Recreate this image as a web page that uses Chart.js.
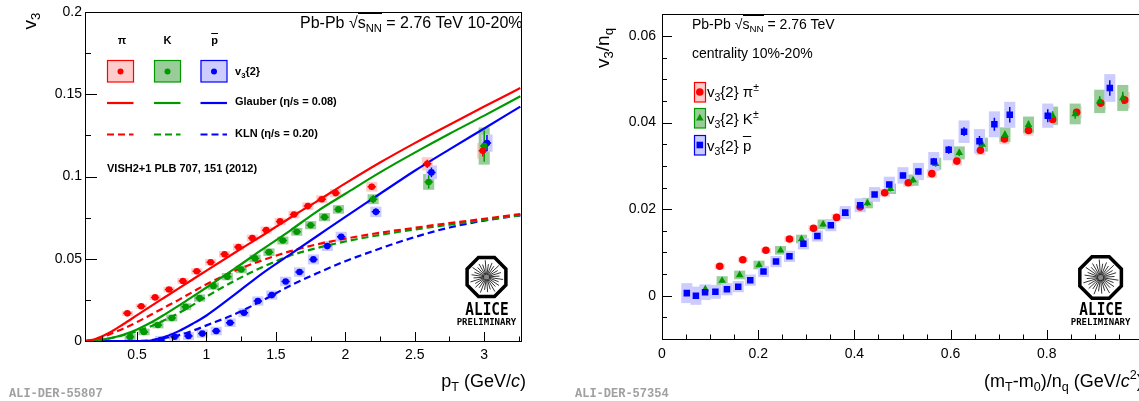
<!DOCTYPE html>
<html>
<head>
<meta charset="utf-8">
<script src="https://cdn.jsdelivr.net/npm/chart.js@4.4.1/dist/chart.umd.min.js"></script>
<style>
  html, body { margin: 0; padding: 0; background: #fff; }
  body { position: relative; width: 1139px; height: 401px; overflow: hidden; font-family: 'Liberation Sans', Arial, sans-serif; }
  canvas { position: absolute; top: 0; }
  .t { position: absolute; white-space: nowrap; line-height: 1; color: #000; }
  .b { font-weight: bold; }
  .c { text-align: center; }
  sub, sup { font-size: 70%; line-height: 0; }
  sub { vertical-align: -0.35em; }
  sup { vertical-align: 0.6em; }
  .ov { text-decoration: overline; }
  .rt { border-top: 1px solid #000; }
  .ali { font-family: 'Liberation Mono', monospace; font-weight: bold; font-size: 12px; color: #a0a0a0; }
  .logo { font-family: 'DejaVu Sans Mono', monospace; font-weight: bold; text-align: center; width: 100px; }
</style>
</head>
<body>
<canvas id="left" width="560" height="401" style="left:0"></canvas>
<canvas id="right" width="620" height="401" style="left:570px"></canvas>

<!-- left panel texts -->
<div class="t" style="left:29px;top:21px;font-size:19px;transform:translate(-50%,-50%) rotate(-90deg)">v<sub>3</sub></div>
<div class="t" style="left:300px;top:15px;width:222px;text-align:right;font-size:16px">Pb-Pb <span>&#8730;</span><span class="rt">s<sub>NN</sub></span> = 2.76 TeV 10-20%</div>
<div class="t b c" style="left:102px;top:35px;width:40px;font-size:11px">&pi;</div>
<div class="t b c" style="left:147.6px;top:35px;width:40px;font-size:11px">K</div>
<div class="t b c" style="left:194.6px;top:35px;width:40px;font-size:11px"><span class="ov">p</span></div>
<div class="t b" style="left:235px;top:66px;font-size:11px">v<sub>3</sub>{2}</div>
<div class="t b" style="left:235px;top:96px;font-size:11px">Glauber (&eta;/s = 0.08)</div>
<div class="t b" style="left:235px;top:127.5px;font-size:11px">KLN (&eta;/s = 0.20)</div>
<div class="t b" style="left:107px;top:162.5px;font-size:11px">VISH2+1 PLB 707, 151 (2012)</div>
<div class="t" style="left:380px;top:372px;width:146px;text-align:right;font-size:18px">p<sub>T</sub> (GeV/<i>c</i>)</div>
<div class="t ali" style="left:9px;top:388px">ALI-DER-55807</div>
<div class="t logo" style="left:436.5px;top:300px;font-size:18px;transform:scaleX(0.8)">ALICE</div>
<div class="t logo" style="left:436.5px;top:318px;font-size:9px">PRELIMINARY</div>

<!-- right panel texts -->
<div class="t" style="left:602px;top:48px;font-size:19px;transform:translate(-50%,-50%) rotate(-90deg)">v<sub>3</sub>/n<sub>q</sub></div>
<div class="t" style="left:692px;top:17px;font-size:14px">Pb-Pb <span>&#8730;</span><span class="rt">s<sub>NN</sub></span> = 2.76 TeV</div>
<div class="t" style="left:692px;top:46px;font-size:14px">centrality 10%-20%</div>
<div class="t" style="left:707px;top:84px;font-size:15px">v<sub>3</sub>{2} &pi;<sup>&plusmn;</sup></div>
<div class="t" style="left:707px;top:111px;font-size:15px">v<sub>3</sub>{2} K<sup>&plusmn;</sup></div>
<div class="t" style="left:707px;top:138px;font-size:15px">v<sub>3</sub>{2} <span class="ov">p</span></div>
<div class="t" style="left:984px;top:372px;font-size:18px">(m<sub>T</sub>-m<sub>0</sub>)/n<sub>q</sub> (GeV/<i>c</i><sup>2</sup>)</div>
<div class="t ali" style="left:575px;top:388px">ALI-DER-57354</div>
<div class="t logo" style="left:1050.6px;top:300px;font-size:18px;transform:scaleX(0.8)">ALICE</div>
<div class="t logo" style="left:1050.6px;top:318px;font-size:9px">PRELIMINARY</div>

<script>
// ---- left panel: v3 vs pT ----
const ptPi = [0.43, 0.53, 0.63, 0.73, 0.83, 0.93, 1.03, 1.13, 1.23, 1.33, 1.43, 1.53, 1.63, 1.73, 1.83, 1.93, 2.19, 2.59, 2.99];
const v3Pi = [0.0168, 0.0211, 0.0265, 0.0313, 0.0365, 0.0424, 0.0479, 0.0527, 0.0571, 0.0626, 0.0674, 0.0727, 0.0769, 0.0820, 0.0862, 0.0899, 0.0938, 0.1077, 0.1156];
const statPi = [0.0008, 0.0008, 0.0008, 0.0008, 0.0008, 0.0009, 0.0009, 0.0009, 0.001, 0.001, 0.001, 0.0011, 0.0011, 0.0012, 0.0013, 0.0014, 0.0018, 0.0025, 0.0035];
const sysPi = [0.0015, 0.0015, 0.0016, 0.0017, 0.0018, 0.0019, 0.002, 0.002, 0.0021, 0.0021, 0.0022, 0.0022, 0.0023, 0.0023, 0.0024, 0.0025, 0.003, 0.004, 0.0048];

const ptK = [0.45, 0.55, 0.65, 0.75, 0.85, 0.95, 1.05, 1.15, 1.25, 1.35, 1.45, 1.55, 1.65, 1.75, 1.85, 1.95, 2.2, 2.6, 3.0];
const v3K = [0.0025, 0.0055, 0.0097, 0.0140, 0.0208, 0.0261, 0.0334, 0.0391, 0.0435, 0.0502, 0.0540, 0.0611, 0.0664, 0.0704, 0.0753, 0.0800, 0.0862, 0.0967, 0.1185];
const statK = [0.001, 0.001, 0.001, 0.001, 0.001, 0.001, 0.001, 0.001, 0.0011, 0.0011, 0.0012, 0.0012, 0.0013, 0.0013, 0.0014, 0.0015, 0.0025, 0.004, 0.0095];
const sysK = [0.002, 0.002, 0.002, 0.0021, 0.0021, 0.0022, 0.0022, 0.0022, 0.0023, 0.0023, 0.0023, 0.0024, 0.0024, 0.0025, 0.0025, 0.0026, 0.003, 0.0048, 0.0113];

const ptP = [0.67, 0.77, 0.87, 0.97, 1.07, 1.17, 1.27, 1.37, 1.47, 1.57, 1.67, 1.77, 1.87, 1.97, 2.22, 2.62, 3.02];
const v3P = [0.0006, 0.0026, 0.0030, 0.0045, 0.0061, 0.0111, 0.0172, 0.0243, 0.0279, 0.0362, 0.0419, 0.0496, 0.0577, 0.0634, 0.0785, 0.1025, 0.1203];
const statP = [0.0008, 0.0008, 0.0008, 0.0008, 0.0009, 0.0009, 0.0009, 0.001, 0.001, 0.0011, 0.0011, 0.0012, 0.0013, 0.0015, 0.002, 0.003, 0.005];
const sysP = [0.0025, 0.0025, 0.0025, 0.0025, 0.0026, 0.0026, 0.0027, 0.0028, 0.0028, 0.0029, 0.0029, 0.003, 0.003, 0.003, 0.0032, 0.0042, 0.0053];

// VISH2+1 curves
const curvePt = [0.13, 0.2, 0.3, 0.4, 0.5, 0.6, 0.7, 0.8, 0.9, 1.0, 1.2, 1.4, 1.6, 1.8, 2.0, 2.25, 2.5, 2.75, 3.0, 3.26];
const glauberPi = [0, 0.0012, 0.005, 0.0102, 0.0157, 0.0212, 0.0266, 0.032, 0.0374, 0.0428, 0.0535, 0.064, 0.0748, 0.0852, 0.0958, 0.1085, 0.1203, 0.1315, 0.1425, 0.1538];
const glauberK = [0, 0.0003, 0.0016, 0.0038, 0.007, 0.0112, 0.0162, 0.0215, 0.027, 0.0325, 0.0438, 0.0555, 0.067, 0.079, 0.0895, 0.1025, 0.1145, 0.126, 0.137, 0.1488];
const glauberP = [0, 0, 0, 0, 0, 0.0003, 0.0025, 0.006, 0.0105, 0.0155, 0.028, 0.041, 0.0525, 0.064, 0.0755, 0.0895, 0.1035, 0.1165, 0.1292, 0.1425];
const klnPi = [0, 0.0008, 0.004, 0.0075, 0.0115, 0.016, 0.0205, 0.025, 0.0298, 0.0345, 0.0425, 0.049, 0.0545, 0.0588, 0.0622, 0.0658, 0.0688, 0.0717, 0.0743, 0.0772];
const klnK = [0, 0.0003, 0.0015, 0.0035, 0.006, 0.009, 0.0128, 0.017, 0.0218, 0.027, 0.0365, 0.0448, 0.0518, 0.0566, 0.0605, 0.0645, 0.0678, 0.0707, 0.0735, 0.0765];
const klnP = [0, 0, 0, 0, 0, 0.0005, 0.0018, 0.0035, 0.0062, 0.0095, 0.0162, 0.0245, 0.0335, 0.0413, 0.0485, 0.0562, 0.0632, 0.069, 0.0732, 0.0764];

const xTicksLeft = [0.5, 1, 1.5, 2, 2.5, 3];
const xLabelsLeft = ['0.5', '1', '1.5', '2', '2.5', '3'];
const yTicksLeft = [0, 0.05, 0.1, 0.15, 0.2];
const yLabelsLeft = ['0', '0.05', '0.1', '0.15', '0.2'];

// ---- right panel: v3/nq vs (mT-m0)/nq ----
const kePi = [0.12, 0.168, 0.216, 0.265, 0.315, 0.363, 0.412, 0.463, 0.512, 0.561, 0.613, 0.662, 0.712, 0.762, 0.812, 0.862, 0.912, 0.962];
const nqPi = [0.0068, 0.0083, 0.0105, 0.0131, 0.0156, 0.0181, 0.0205, 0.0238, 0.0261, 0.0282, 0.0311, 0.0336, 0.0362, 0.0382, 0.0407, 0.0424, 0.0445, 0.0452];
const nqStatPi = [0.0004, 0.0004, 0.0004, 0.0004, 0.0004, 0.0004, 0.0005, 0.0005, 0.0005, 0.0005, 0.0005, 0.0006, 0.0006, 0.0006, 0.0007, 0.0007, 0.0008, 0.0009];
const nqSysPi = [0.0006, 0.0006, 0.0006, 0.0007, 0.0007, 0.0008, 0.0008, 0.0009, 0.0009, 0.001, 0.001, 0.0011, 0.0012, 0.0012, 0.0013, 0.0014, 0.0016, 0.0019];

const keK = [0.09, 0.125, 0.1615, 0.2017, 0.2465, 0.290, 0.335, 0.381, 0.427, 0.475, 0.522, 0.569, 0.618, 0.666, 0.713, 0.762, 0.812, 0.859, 0.910, 0.958];
const nqK = [0.0015, 0.0035, 0.0048, 0.0071, 0.0105, 0.0131, 0.0165, 0.0190, 0.0214, 0.0247, 0.0267, 0.0305, 0.0330, 0.0349, 0.0372, 0.0395, 0.0416, 0.0420, 0.0449, 0.0457];
const nqStatK = [0.0005, 0.0005, 0.0005, 0.0005, 0.0005, 0.0005, 0.0005, 0.0005, 0.0006, 0.0006, 0.0006, 0.0007, 0.0007, 0.0008, 0.0008, 0.0009, 0.001, 0.0011, 0.0012, 0.0014];
const nqSysK = [0.001, 0.001, 0.001, 0.001, 0.001, 0.001, 0.0011, 0.0011, 0.0012, 0.0012, 0.0013, 0.0014, 0.0015, 0.0016, 0.0017, 0.0019, 0.0021, 0.0024, 0.0027, 0.003];

const keP = [0.0516, 0.0705, 0.0895, 0.111, 0.135, 0.1585, 0.1835, 0.211, 0.237, 0.265, 0.294, 0.323, 0.351, 0.381, 0.412, 0.442, 0.4725, 0.501, 0.533, 0.565, 0.596, 0.628, 0.66, 0.691, 0.723, 0.802, 0.931];
const nqP = [0.0006, 0.0000, 0.0008, 0.0009, 0.0015, 0.0021, 0.0036, 0.0056, 0.0079, 0.0091, 0.0120, 0.0138, 0.0163, 0.0192, 0.0209, 0.0234, 0.0257, 0.0278, 0.0287, 0.0310, 0.0337, 0.0379, 0.0357, 0.0396, 0.0418, 0.0416, 0.0480];
const nqStatP = [0.0006, 0.0005, 0.0005, 0.0004, 0.0004, 0.0004, 0.0004, 0.0004, 0.0004, 0.0004, 0.0004, 0.0004, 0.0005, 0.0005, 0.0005, 0.0005, 0.0006, 0.0006, 0.0007, 0.0008, 0.0009, 0.001, 0.0012, 0.0015, 0.0018, 0.0015, 0.0018];
const nqSysP = [0.0023, 0.0021, 0.0018, 0.0016, 0.0014, 0.0013, 0.0013, 0.0013, 0.0013, 0.0013, 0.0013, 0.0013, 0.0014, 0.0015, 0.0016, 0.0017, 0.0018, 0.0019, 0.002, 0.0022, 0.0024, 0.0026, 0.0028, 0.003, 0.003, 0.0028, 0.0032];

const xTicksRight = [0, 0.2, 0.4, 0.6, 0.8, 1];
const xLabelsRight = ['0', '0.2', '0.4', '0.6', '0.8', '1'];
const yTicksRight = [0, 0.02, 0.04, 0.06];
const yLabelsRight = ['0', '0.02', '0.04', '0.06'];

const red = '#ff0000', green = '#009a00', blue = '#0000ff';
const boxRed = '#ffcccc', boxGreen = '#99cc99', boxBlue = '#ccccff';
const font = { family: "'Liberation Sans', Arial, sans-serif", size: 14 };

const toXY = (xs, ys) => xs.map((v, i) => ({ x: v, y: ys[i] }));

function drawSys(chart, xs, ys, sys, halfW, fill) {
    const { ctx, scales: { x, y } } = chart;
    ctx.fillStyle = fill;
    xs.forEach((v, i) => {
        const x0 = x.getPixelForValue(v - halfW), x1 = x.getPixelForValue(v + halfW);
        const y0 = y.getPixelForValue(ys[i] + sys[i]), y1 = y.getPixelForValue(ys[i] - sys[i]);
        ctx.fillRect(x0, y0, x1 - x0, y1 - y0);
    });
}

function drawStat(chart, xs, ys, stat, halfW, color) {
    const { ctx, scales: { x, y } } = chart;
    ctx.strokeStyle = color;
    ctx.lineWidth = 1.5;
    xs.forEach((v, i) => {
        const px = x.getPixelForValue(v), py = y.getPixelForValue(ys[i]);
        ctx.beginPath();
        ctx.moveTo(px, y.getPixelForValue(ys[i] + stat[i]));
        ctx.lineTo(px, y.getPixelForValue(ys[i] - stat[i]));
        if (halfW > 0) {
            ctx.moveTo(x.getPixelForValue(v - halfW), py);
            ctx.lineTo(x.getPixelForValue(v + halfW), py);
        }
        ctx.stroke();
    });
}

// ROOT-like frame with inward ticks
function drawFrame(chart, xMajor, xStep, yMajor, yStep, xLen, yLen) {
    const { ctx, chartArea: a, scales: { x, y } } = chart;
    ctx.save();
    ctx.strokeStyle = '#000';
    ctx.lineWidth = 1;
    ctx.strokeRect(Math.round(a.left) + 0.5, Math.round(a.top) + 0.5, Math.round(a.right - a.left), Math.round(a.bottom - a.top));
    ctx.beginPath();
    const isMajor = (list, v) => list.some(m => Math.abs(m - v) < 1e-9);
    for (let v = Math.ceil(x.min / xStep - 1e-9) * xStep; v <= x.max + 1e-9; v += xStep) {
        const px = Math.round(x.getPixelForValue(v)) + 0.5;
        const len = isMajor(xMajor, +v.toFixed(6)) ? xLen : xLen / 2;
        ctx.moveTo(px, a.bottom);
        ctx.lineTo(px, a.bottom - len);
    }
    for (let v = Math.ceil(y.min / yStep - 1e-9) * yStep; v <= y.max + 1e-9; v += yStep) {
        const py = Math.round(y.getPixelForValue(v)) + 0.5;
        const len = isMajor(yMajor, +v.toFixed(6)) ? yLen : yLen / 2;
        ctx.moveTo(a.left, py);
        ctx.lineTo(a.left + len, py);
    }
    ctx.stroke();
    ctx.restore();
}

function drawAliceLogo(ctx, cx, cy, r) {
    ctx.save();
    ctx.strokeStyle = '#000';
    ctx.lineWidth = 0.8;
    for (let k = 0; k < 28; k++) {
        const ang = k * Math.PI * 2 / 28 + 0.15;
        const r1 = r * (k % 4 === 0 ? 0.8 : (k % 2 ? 0.62 : 0.72));
        ctx.beginPath();
        ctx.moveTo(cx + 2 * Math.cos(ang), cy + 2 * Math.sin(ang));
        ctx.lineTo(cx + r1 * Math.cos(ang), cy + r1 * Math.sin(ang));
        ctx.stroke();
    }
    ctx.fillStyle = '#888';
    ctx.beginPath();
    ctx.arc(cx, cy, 2.5, 0, Math.PI * 2);
    ctx.fill();
    ctx.beginPath();
    for (let k = 0; k < 8; k++) {
        const ang = Math.PI / 8 + k * Math.PI / 4;
        const px = cx + r * Math.cos(ang), py = cy + r * Math.sin(ang);
        if (k === 0) ctx.moveTo(px, py); else ctx.lineTo(px, py);
    }
    ctx.closePath();
    ctx.lineWidth = 3.5;
    ctx.stroke();
    ctx.restore();
}

const clipArea = (chart) => {
    const { ctx, chartArea: a } = chart;
    ctx.beginPath();
    ctx.rect(a.left, a.top, a.right - a.left, a.bottom - a.top);
    ctx.clip();
};

const leftDecor = {
    id: 'leftDecor',
    beforeDatasetsDraw(chart) {
        const ctx = chart.ctx;
        ctx.save();
        clipArea(chart);
        drawSys(chart, ptPi, v3Pi, sysPi, 0.04, boxRed);
        drawSys(chart, ptK, v3K, sysK, 0.04, boxGreen);
        drawSys(chart, ptP, v3P, sysP, 0.04, boxBlue);
        drawStat(chart, ptPi, v3Pi, statPi, 0.03, red);
        drawStat(chart, ptK, v3K, statK, 0.03, green);
        drawStat(chart, ptP, v3P, statP, 0.03, blue);
        ctx.restore();
    },
    afterDraw(chart) {
        const ctx = chart.ctx;
        drawFrame(chart, xTicksLeft, 0.25, yTicksLeft, 0.025, 9, 12);
        // legend glyphs
        ctx.save();
        [[107, boxRed, red], [154, boxGreen, green], [200.5, boxBlue, blue]].forEach(([lx, fill, col]) => {
            ctx.fillStyle = fill;
            ctx.fillRect(lx, 60, 26.5, 22);
            ctx.strokeStyle = col;
            ctx.lineWidth = 1.2;
            ctx.strokeRect(lx + 0.5, 60.5, 26, 21.5);
            ctx.fillStyle = col;
            ctx.beginPath();
            ctx.arc(lx + 13.5, 71.5, 3, 0, Math.PI * 2);
            ctx.fill();
            ctx.lineWidth = 2.2;
            ctx.beginPath();
            ctx.moveTo(lx, 103); ctx.lineTo(lx + 26.5, 103);
            ctx.stroke();
            ctx.setLineDash([7, 4]);
            ctx.beginPath();
            ctx.moveTo(lx, 134.5); ctx.lineTo(lx + 26.5, 134.5);
            ctx.stroke();
            ctx.setLineDash([]);
        });
        ctx.restore();
        drawAliceLogo(ctx, 486.5, 277, 21);
    }
};

const rightDecor = {
    id: 'rightDecor',
    beforeDatasetsDraw(chart) {
        const ctx = chart.ctx;
        ctx.save();
        clipArea(chart);
        drawSys(chart, kePi, nqPi, nqSysPi, 0.0105, boxRed);
        drawSys(chart, keK, nqK, nqSysK, 0.0115, boxGreen);
        drawSys(chart, keP, nqP, nqSysP, 0.0115, boxBlue);
        drawStat(chart, kePi, nqPi, nqStatPi, 0, red);
        drawStat(chart, keK, nqK, nqStatK, 0, green);
        drawStat(chart, keP, nqP, nqStatP, 0, blue);
        ctx.restore();
    },
    afterDraw(chart) {
        const ctx = chart.ctx;
        drawFrame(chart, xTicksRight, 0.05, yTicksRight, 0.005, 9, 10);
        ctx.save();
        [[82, boxRed, red, 'circle'], [108, boxGreen, green, 'triangle'], [135, boxBlue, blue, 'rect']].forEach(([ly, fill, col, shape]) => {
            ctx.fillStyle = fill;
            ctx.fillRect(124, ly, 11.5, 20);
            ctx.strokeStyle = col;
            ctx.lineWidth = 1.2;
            ctx.strokeRect(124.5, ly + 0.5, 11, 19.5);
            ctx.fillStyle = col;
            ctx.beginPath();
            const cx = 129.8, cy = ly + 10;
            if (shape === 'circle') ctx.arc(cx, cy, 3.8, 0, Math.PI * 2);
            else if (shape === 'triangle') { ctx.moveTo(cx, cy - 4.3); ctx.lineTo(cx + 3.8, cy + 2.4); ctx.lineTo(cx - 3.8, cy + 2.4); ctx.closePath(); }
            else ctx.rect(cx - 3.3, cy - 3.3, 6.6, 6.6);
            ctx.fill();
        });
        ctx.restore();
        drawAliceLogo(ctx, 1100.6 - 570, 277.5, 22.5);
    }
};

function axes(xMin, xMax, xTicks, xLabels, yMin, yMax, yTicks, yLabels, leftW, bottomH, xPad, yPad) {
    return {
        x: {
            type: 'linear', min: xMin, max: xMax,
            grid: { display: false, drawTicks: false },
            border: { display: false },
            afterBuildTicks: (scale) => { scale.ticks = xTicks.map(v => ({ value: v })); },
            afterFit: (scale) => { scale.height = bottomH; },
            ticks: { autoSkip: false, maxRotation: 0, padding: xPad, color: '#000', font, callback: (v, i) => xLabels[i] }
        },
        y: {
            type: 'linear', min: yMin, max: yMax,
            grid: { display: false, drawTicks: false },
            border: { display: false },
            afterBuildTicks: (scale) => { scale.ticks = yTicks.map(v => ({ value: v })); },
            afterFit: (scale) => { scale.width = leftW; },
            ticks: { autoSkip: false, padding: yPad, color: '#000', font, callback: (v, i) => yLabels[i] }
        }
    };
}

const curve = (ys, color, dashed) => ({
    data: toXY(curvePt, ys),
    showLine: true,
    borderColor: color,
    borderWidth: 2.2,
    borderDash: dashed ? [7, 4] : [],
    pointRadius: 0,
    cubicInterpolationMode: 'monotone'
});

const markers = (xs, ys, color, style, radius) => ({
    data: toXY(xs, ys),
    showLine: false,
    pointStyle: style,
    pointRadius: radius,
    backgroundColor: color,
    borderColor: color,
    borderWidth: 0
});

new Chart(document.getElementById('left'), {
    type: 'scatter',
    data: {
        datasets: [
            markers(ptPi, v3Pi, red, 'circle', 3.3),
            markers(ptK, v3K, green, 'circle', 3.3),
            markers(ptP, v3P, blue, 'circle', 3.3),
            curve(glauberPi, red, false),
            curve(glauberK, green, false),
            curve(glauberP, blue, false),
            curve(klnPi, red, true),
            curve(klnK, green, true),
            curve(klnP, blue, true)
        ]
    },
    options: {
        responsive: false,
        animation: false,
        events: [],
        layout: { padding: { left: 0, right: 39, top: 12, bottom: 0 } },
        plugins: { legend: { display: false }, tooltip: { enabled: false } },
        scales: axes(0.125, 3.265, xTicksLeft, xLabelsLeft, 0, 0.2, yTicksLeft, yLabelsLeft, 85, 60, 6, 3)
    },
    plugins: [leftDecor]
});

new Chart(document.getElementById('right'), {
    type: 'scatter',
    data: {
        datasets: [
            markers(keP, nqP, blue, 'rect', 4.6),
            markers(keK, nqK, green, 'triangle', 4.4),
            markers(kePi, nqPi, red, 'circle', 3.8)
        ]
    },
    options: {
        responsive: false,
        animation: false,
        events: [],
        layout: { padding: { left: 0, right: 47, top: 14, bottom: 0 } },
        plugins: { legend: { display: false }, tooltip: { enabled: false } },
        scales: axes(0, 1.0, xTicksRight, xLabelsRight, -0.01, 0.065, yTicksRight, yLabelsRight, 92, 62, 7, 6)
    },
    plugins: [rightDecor]
});
</script>
</body>
</html>
